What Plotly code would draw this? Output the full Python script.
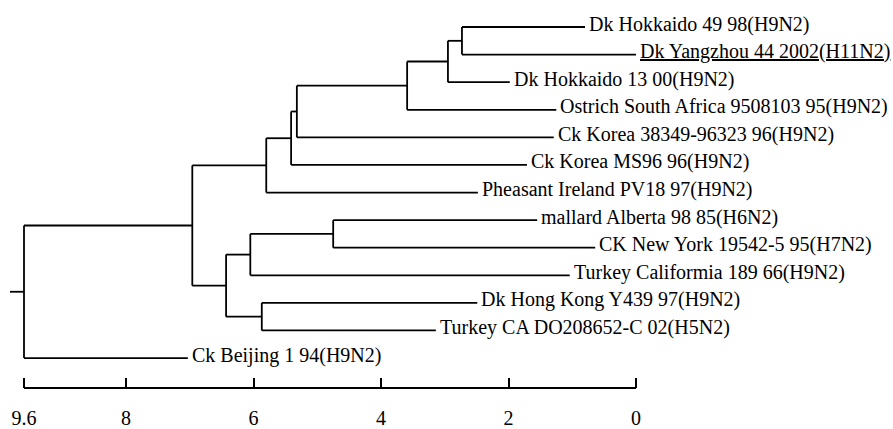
import plotly.graph_objects as go

# ---- data ----
leaf_labels = [
    "Dk Hokkaido 49 98(H9N2)",
    "Dk Yangzhou 44 2002(H11N2)",
    "Dk Hokkaido 13 00(H9N2)",
    "Ostrich South Africa 9508103 95(H9N2)",
    "Ck Korea 38349-96323 96(H9N2)",
    "Ck Korea MS96 96(H9N2)",
    "Pheasant Ireland PV18 97(H9N2)",
    "mallard Alberta 98 85(H6N2)",
    "CK New York 19542-5 95(H7N2)",
    "Turkey Califormia 189 66(H9N2)",
    "Dk Hong Kong Y439 97(H9N2)",
    "Turkey CA DO208652-C 02(H5N2)",
    "Ck Beijing 1 94(H9N2)",
]
leaf_heights = [0.80, 0.0, 1.98, 1.25, 1.29, 1.71, 2.48, 1.55, 0.64, 1.04, 2.49, 3.14, 7.03]
highlighted_leaf = "Dk Yangzhou 44 2002(H11N2)"

node_names = ["R", "A", "B", "C", "D", "E", "F", "G", "H", "I", "J", "K"]
node_heights = [9.6, 6.96, 5.80, 5.41, 5.32, 3.59, 2.95, 2.73, 6.43, 6.05, 4.75, 5.87]
node_children = [
    ["A", 12],
    ["B", "H"],
    ["C", 6],
    ["D", 5],
    ["E", 4],
    ["F", 3],
    ["G", 2],
    [0, 1],
    ["I", "K"],
    ["J", 9],
    [7, 8],
    [10, 11],
]

scale_ticks = [9.6, 8, 6, 4, 2, 0]
scale_tick_text = ["9.6", "8", "6", "4", "2", "0"]

# ---- layout of the tree (positions derived from the structure) ----
ROOT_STUB = 0.22
height_of = {n: h for n, h in zip(node_names, node_heights)}
children_of = {n: c for n, c in zip(node_names, node_children)}


def pos(ref):
    """Return (height, row) for a node name or leaf index."""
    if isinstance(ref, int):
        return leaf_heights[ref], float(ref)
    rows = [pos(c)[1] for c in children_of[ref]]
    return height_of[ref], (min(rows) + max(rows)) / 2.0


xs, ys = [], []
for name in node_names:
    h, r = pos(name)
    rows = []
    for c in children_of[name]:
        ch, cr = pos(c)
        rows.append(cr)
        xs += [h, ch, None]
        ys += [cr, cr, None]
    xs += [h, h, None]
    ys += [min(rows), max(rows), None]

root_h, root_r = pos("R")
xs += [root_h + ROOT_STUB, root_h, None]
ys += [root_r, root_r, None]

FONT = "Liberation Serif"
W, H = 893, 429
PX_PER_UNIT = 63.75
X0_PX = 636          # pixel of value 0
ROW0_PX, ROW_PX = 28, 28.58
PLOT_BOTTOM = 402

fig = go.Figure()
fig.add_trace(go.Scatter(
    x=xs, y=ys, mode="lines",
    line=dict(color="black", width=1.8),
    hoverinfo="skip", showlegend=False,
))

annotations = []
for i, (lab, h) in enumerate(zip(leaf_labels, leaf_heights)):
    txt = f"<u>{lab}</u>" if lab == highlighted_leaf else lab
    annotations.append(dict(
        x=h, y=i, xref="x", yref="y", text=txt, showarrow=False,
        xanchor="left", yanchor="middle", xshift=2, yshift=3,
        font=dict(family=FONT, size=20, color="black"),
    ))

fig.update_layout(
    width=W, height=H,
    margin=dict(l=0, r=0, t=0, b=H - PLOT_BOTTOM),
    paper_bgcolor="white", plot_bgcolor="white",
    annotations=annotations,
    shapes=[dict(
        type="line", xref="x", yref="paper",
        x0=scale_ticks[0], x1=scale_ticks[-1], y0=0, y1=0,
        line=dict(color="black", width=1.8), layer="above",
    )],
    xaxis=dict(
        range=[X0_PX / PX_PER_UNIT, (X0_PX - W) / PX_PER_UNIT],
        showgrid=False, zeroline=False, showline=False,
        tickmode="array", tickvals=scale_ticks, ticktext=scale_tick_text,
        ticks="inside", ticklen=10, tickwidth=1.8, tickcolor="black",
        ticklabelstandoff=16,
        tickfont=dict(family=FONT, size=20, color="black"),
    ),
    yaxis=dict(
        range=[(PLOT_BOTTOM - ROW0_PX) / ROW_PX, -ROW0_PX / ROW_PX],
        visible=False, showgrid=False, zeroline=False,
    ),
)

fig.write_html(
    "out.html", config={"displayModeBar": False},
    post_script="document.body.style.margin='0';document.body.style.overflow='hidden';",
)
